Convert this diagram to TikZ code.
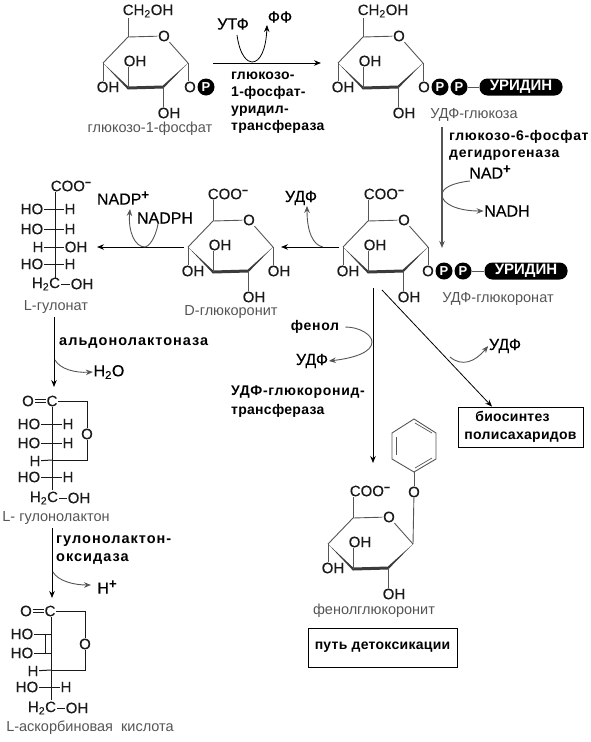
\documentclass[tikz,border=0pt]{standalone}
\usepackage{fontspec}
\setmainfont{Liberation Sans}
\newfontfamily\atomfont[FakeBold=0.25]{Liberation Sans}
\newfontfamily\enzfont[LetterSpace=2]{Liberation Sans}
\newfontfamily\enzmid[LetterSpace=5]{Liberation Sans}
\newfontfamily\enzwide[LetterSpace=7]{Liberation Sans}
\usetikzlibrary{arrows.meta,positioning}
\definecolor{bondgray}{HTML}{555555}
\definecolor{inkdark}{HTML}{1A1A1A}
\definecolor{capgray}{HTML}{555555}
\newcommand{\chargeplus}{\raisebox{5.5pt}{\fontsize{13}{13}\selectfont\bfseries +}}

\begin{document}
\begin{tikzpicture}[
    x=1pt, y=-1pt,
    >=Stealth,
    atom/.style={inner sep=0.6pt, text=inkdark, font=\atomfont\fontsize{15}{16}\selectfont},
    reagent/.style={inner sep=0.6pt, text=black, font=\atomfont\fontsize{16}{18}\selectfont},
    capt/.style={inner sep=0pt, text=capgray, text height=10.5pt, text depth=3.2pt, font=\fontsize{14.5}{16}\selectfont},
    enzyme/.style={inner sep=0pt, anchor=west, text=black, text height=10pt, text depth=3pt, font=\enzfont\fontsize{14}{16}\selectfont\bfseries},
    enzymemid/.style={enzyme, font=\enzmid\fontsize{14}{16}\selectfont\bfseries},
    enzymewide/.style={enzyme, font=\enzwide\fontsize{14.5}{16}\selectfont\bfseries},
    phos/.style={circle, fill=black, text=white, minimum size=17pt, inner sep=0pt, font=\fontsize{13}{14}\selectfont\bfseries},
    uridine/.style={fill=black, text=white, rounded corners=8pt, minimum width=83pt, minimum height=17pt, inner sep=0pt, font=\fontsize{15}{16}\selectfont\bfseries},
    resultbox/.style={draw=black, thick, fill=white, align=center, font=\enzfont\fontsize{14}{18}\selectfont\bfseries},
    bond/.style={draw=bondgray, line width=0.9pt},
    fbond/.style={draw=inkdark, line width=1pt},
    rx/.style={draw=black, line width=0.8pt, -{Stealth[length=7pt,width=5.5pt]}},
    side/.style={draw=bondgray, line width=0.9pt, -{Stealth[length=7pt,width=5.5pt]}},
    pics/sugar/.style={code={
        \coordinate (-c5) at (0,0);
        \node[atom] (-o) at (36,-1) {O};
        \coordinate (-c1) at (60,26);
        \coordinate (-c2) at (35,50);
        \coordinate (-c3) at (0,51);
        \coordinate (-c4) at (-25,26);
        \node[atom] (-oh3) at (7,24) {OH};
        \node[atom] (-oh4) at (-20,50) {OH};
        \node[atom] (-oh2) at (41,76) {OH};
        \draw[bond] (-c4) -- (-c5) -- (-o) -- (-c1);
        \fill[bondgray!70!black] (-c4) -- ([yshift=1.6pt]-c3) -- ([yshift=-1.6pt]-c3) -- cycle;
        \fill[bondgray!70!black] (-c1) -- ([yshift=1.6pt]-c2) -- ([yshift=-1.6pt]-c2) -- cycle;
        \draw[bondgray!70!black, line width=3pt] (-c3) -- (-c2);
        \draw[bond] (-c3) -- (-c3 |- -oh3.south);
        \draw[bond] (-c4) -- (-c4 |- -oh4.north);
        \draw[bond] (-c2) -- (-c2 |- -oh2.north);
    }}
]
\useasboundingbox (0,0) rectangle (591,742);

% glucose-1-phosphate
\pic (r1) at (128,37) {sugar};
\node[atom] (r1-ch) at (148,11) {CH\textsubscript{2}OH};
\draw[bond] (r1-c5) -- (r1-c5 |- r1-ch.south);
\node[atom] (r1-op) at (190,87) {O};
\node[phos] (r1-p) at (206,87) {P};
\draw[bond] (r1-c1) -- (r1-c1 |- r1-op.north);
\node[capt] (r1-cap) at (150,129) {глюкозо-1-фосфат};

% UDP-glucose
\pic (r2) at (363,37) {sugar};
\node[atom] (r2-ch) at (383,11) {CH\textsubscript{2}OH};
\draw[bond] (r2-c5) -- (r2-c5 |- r2-ch.south);
\node[atom] (r2-op) at (424,87) {O};
\node[phos] (r2-p1) at (440,87) {P};
\node[phos] (r2-p2) at (459,87) {P};
\node[uridine] (r2-uri) at (521,87) {УРИДИН};
\draw[bond] (r2-c1) -- (r2-c1 |- r2-op.north);
\draw[bond] (r2-p2) -- (r2-uri);
\node[capt] (r2-cap) at (474,115) {УДФ-глюкоза};

% first step
\node[reagent] (utp) at (233,24) {УТФ};
\node[reagent] (pp) at (280,17) {ФФ};
\draw[rx, shorten <=25pt, shorten >=17pt] (r1-c1) -- (r2-c4);
\draw[rx] (237,35) .. controls (240,57) and (248,62) .. (252,62) .. controls (260,62) and (266,50) .. (267,25);
\node[enzyme] (enz1a) at (231,76) {глюкозо-};
\node[enzyme] (enz1b) at (231,93) {1-фосфат-};
\node[enzyme] (enz1c) at (231,110) {уридил-};
\node[enzyme] (enz1d) at (231,127) {трансфераза};

% dehydrogenase step
\coordinate (dh-top) at (442,127);
\coordinate (dh-bot) at (442,248);
\draw[rx, draw=bondgray, line width=1.2pt] (dh-top) -- (dh-bot);
\node[enzymemid] (enz2a) at (449,137) {глюкозо-6-фосфат};
\node[enzymemid] (enz2b) at (449,154) {дегидрогеназа};
\node[reagent] (nad) at (490,172) {NAD\chargeplus};
\node[reagent] (nadh) at (507,211) {NADH};
\draw[side] (470,181) .. controls (452,183) and (442,188) .. (442,195) .. controls (442,204) and (458,211) .. (nadh.west);

% UDP-glucuronate
\pic (r3) at (368,221) {sugar};
\node[atom, anchor=west] (r3-coo) at (363,194) {COO\textsuperscript{\textbf{−}}};
\draw[bond] (r3-c5) -- (r3-c5 |- r3-coo.south);
\node[atom] (r3-op) at (428,271) {O};
\node[phos] (r3-p1) at (444,271) {P};
\node[phos] (r3-p2) at (463,271) {P};
\node[uridine] (r3-uri) at (526,271) {УРИДИН};
\draw[bond] (r3-c1) -- (r3-c1 |- r3-op.north);
\draw[bond] (r3-p2) -- (r3-uri);
\node[capt] (r3-cap) at (498,299) {УДФ-глюкоронат};

% D-glucuronite
\pic (r4) at (213,221) {sugar};
\node[atom, anchor=west] (r4-coo) at (207,194) {COO\textsuperscript{\textbf{−}}};
\draw[bond] (r4-c5) -- (r4-c5 |- r4-coo.south);
\node[atom] (r4-oh1) at (279,271) {OH};
\draw[bond] (r4-c1) -- (r4-c1 |- r4-oh1.north);
\node[capt] (r4-cap) at (231,312) {D-глюкоронит};
\draw[rx, shorten <=4pt, shorten >=8pt] (r3-c4) -- (r4-c1);
\node[reagent] (udp1) at (301,198) {УДФ};
\draw[side] (323,247) .. controls (313,245) and (307,232) .. (udp1.south -| 307,0);

% L-gulonate
\coordinate (gul-top) at (55,192);
\coordinate (gul-bot) at (55,278);
\draw[fbond] (gul-top) -- (gul-bot);
\node[atom, anchor=west] (gul-coo) at (50,186) {COO\textsuperscript{\textbf{−}}};
\node[atom] (gul-ho1) at (32,209) {HO};
\node[atom] (gul-h1) at (70,209) {H};
\draw[fbond] (gul-ho1) -- (gul-h1);
\node[atom] (gul-ho2) at (32,229) {HO};
\node[atom] (gul-h2) at (70,229) {H};
\draw[fbond] (gul-ho2) -- (gul-h2);
\node[atom] (gul-h3) at (38,247) {H};
\node[atom] (gul-oh3) at (76,247) {OH};
\draw[fbond] (gul-h3) -- (gul-oh3);
\node[atom] (gul-ho4) at (32,264) {HO};
\node[atom] (gul-h4) at (70,264) {H};
\draw[fbond] (gul-ho4) -- (gul-h4);
\node[atom] (gul-ch) at (46,284) {H\textsubscript{2}C};
\node[atom] (gul-oh5) at (82,284) {OH};
\draw[fbond] (gul-ch) -- (gul-oh5);
\node[capt] (gul-cap) at (56,307) {L-гулонат};
\draw[rx, shorten <=4pt, shorten >=9pt] (r4-c4) -- (gul-oh3.east);
\node[reagent] (nadp) at (123,198) {NADP\chargeplus};
\node[reagent] (nadph) at (165,218) {NADPH};
\draw[side] (158,224) .. controls (155,240) and (148,247) .. (145,247) .. controls (135,247) and (128,232) .. (130,209);

% aldonolactonase step
\coordinate (ald-top) at (54,317);
\coordinate (ald-bot) at (54,387);
\draw[rx] (ald-top) -- (ald-bot);
\node[enzymewide] (enz3) at (59,342) {альдонолактоназа};
\node[reagent] (water) at (109,372) {H\textsubscript{2}O};
\draw[side] (55,360) .. controls (60,369) and (75,373) .. (water.west);

% L-gulonolactone
\node[atom] (lac-oo) at (28,401) {O};
\node[atom] (lac-c) at (52,401) {C};
\draw[fbond, double, double distance=2pt, line width=0.7pt] (lac-oo) -- (lac-c);
\node[atom] (lac-o) at (87,434) {O};
\coordinate (lac-ring) at (87,460);
\coordinate (lac-bot) at (52,490);
\draw[fbond] (lac-c.east) -- (lac-c.east -| lac-o) -- (lac-o);
\draw[fbond] (lac-o) -- (lac-ring) -- (lac-ring -| lac-c);
\draw[fbond] (lac-c) -- (lac-bot);
\node[atom] (lac-ho1) at (29,424) {HO};
\node[atom] (lac-h1) at (68,424) {H};
\draw[fbond] (lac-ho1) -- (lac-h1);
\node[atom] (lac-ho2) at (29,443) {HO};
\node[atom] (lac-h2) at (68,443) {H};
\draw[fbond] (lac-ho2) -- (lac-h2);
\node[atom] (lac-h3) at (35,461) {H};
\draw[fbond] (lac-h3) -- (lac-ring -| lac-c);
\node[atom] (lac-ho4) at (29,477) {HO};
\node[atom] (lac-h4) at (68,477) {H};
\draw[fbond] (lac-ho4) -- (lac-h4);
\node[atom] (lac-ch) at (44,498) {H\textsubscript{2}C};
\node[atom] (lac-oh5) at (79,498) {OH};
\draw[fbond] (lac-ch) -- (lac-oh5);
\node[capt] (lac-cap) at (56,518) {L- гулонолактон};

% gulonolactone oxidase step
\coordinate (ox-top) at (52,528);
\coordinate (ox-bot) at (52,598);
\draw[rx] (ox-top) -- (ox-bot);
\node[enzymewide] (enz4a) at (56,540) {гулонолактон-};
\node[enzymewide] (enz4b) at (56,558) {оксидаза};
\node[reagent] (proton) at (107,587) {H\chargeplus};
\draw[side] (53,572) .. controls (58,581) and (74,585) .. (91,585);

% L-ascorbic acid
\node[atom] (asc-oo) at (26,611) {O};
\node[atom] (asc-c) at (50,611) {C};
\draw[fbond, double, double distance=2pt, line width=0.7pt] (asc-oo) -- (asc-c);
\node[atom] (asc-o) at (85,644) {O};
\coordinate (asc-ring) at (85,670);
\coordinate (asc-bot) at (51,700);
\draw[fbond] (asc-c.east) -- (asc-c.east -| asc-o) -- (asc-o);
\draw[fbond] (asc-o) -- (asc-ring) -- (asc-ring -| asc-bot);
\draw[fbond] (asc-c.south -| asc-bot) -- (asc-bot);
\node[atom] (asc-ho1) at (22,634) {HO};
\node[atom] (asc-ho2) at (22,653) {HO};
\coordinate (asc-db1) at (45,634);
\coordinate (asc-db2) at (45,653);
\draw[fbond] (asc-ho1) -- (asc-db1 -| asc-bot);
\draw[fbond] (asc-ho2) -- (asc-db2 -| asc-bot);
\draw[fbond] (asc-db1) -- (asc-db2);
\node[atom] (asc-h3) at (33,671) {H};
\draw[fbond] (asc-h3) -- (asc-ring -| asc-bot);
\node[atom] (asc-ho4) at (27,687) {HO};
\node[atom] (asc-h4) at (66,687) {H};
\draw[fbond] (asc-ho4) -- (asc-h4);
\node[atom] (asc-ch) at (42,708) {H\textsubscript{2}C};
\node[atom] (asc-oh5) at (77,708) {OH};
\draw[fbond] (asc-ch) -- (asc-oh5);
\node[capt] (asc-cap) at (90,728) {L-аскорбиновая\ \ кислота};

% phenol conjugation
\coordinate (tr-top) at (373,288);
\coordinate (tr-bot) at (373,463);
\draw[rx] (tr-top) -- (tr-bot);
\node[enzymemid, anchor=center] (phenol) at (315,327) {фенол};
\node[reagent] (udp2) at (312,361) {УДФ};
\draw[side, shorten <=6pt] (phenol.east) .. controls (360,327) and (372,335) .. (372,342) .. controls (372,352) and (355,358) .. (udp2.east);
\node[enzymemid] (enz5a) at (231,392) {УДФ-глюкоронид-};
\node[enzyme] (enz5b) at (231,411) {трансфераза};

% polysaccharides
\coordinate (ps-top) at (382,290);
\node[resultbox, minimum width=125pt, minimum height=40pt, inner sep=0pt] (ps) at (520.5,427) {\hspace*{-16pt}биосинтез\\полисахаридов};
\draw[rx] (ps-top) -- (ps.north -| 492,0);
\node[reagent] (udp3) at (505,346) {УДФ};
\draw[side] (450,357) .. controls (462,367) and (475,362) .. (udp3.west);

% phenylglucuronide
\pic (r5) at (353,518) {sugar};
\node[atom, anchor=west] (r5-coo) at (349,491) {COO\textsuperscript{\textbf{−}}};
\draw[bond] (r5-c5) -- (r5-c5 |- r5-coo.south);
\node[atom] (r5-op) at (414,492) {O};
\draw[bond] (r5-c1) -- (r5-op);
\coordinate (ph1) at (414,472);
\coordinate (ph2) at (436,459);
\coordinate (ph3) at (436,433);
\coordinate (ph4) at (414,419);
\coordinate (ph5) at (392,433);
\coordinate (ph6) at (392,459);
\draw[bond] (r5-op) -- (ph1);
\draw[bond] (ph1) -- (ph2) -- (ph3) -- (ph4) -- (ph5) -- (ph6) -- cycle;
\draw[bond, line width=0.7pt] (396,437) -- (396,455);
\draw[bond, line width=0.7pt] (415,423) -- (432,433);
\draw[bond, line width=0.7pt] (415,468) -- (432,458);
\node[capt] (r5-cap) at (374,611) {фенолглюкоронит};
\node[resultbox, minimum width=149pt, minimum height=39pt, inner sep=0pt] (detox) at (382.5,647.5) {путь детоксикации};
\end{tikzpicture}
\end{document}
